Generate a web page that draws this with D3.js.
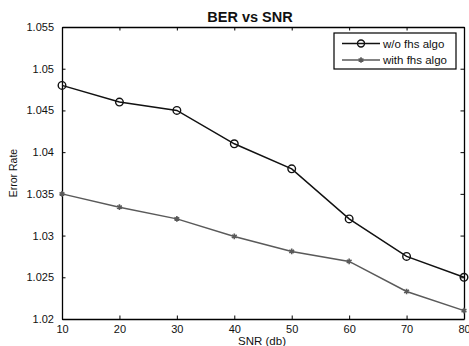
<!DOCTYPE html>
<html>
<head>
<meta charset="utf-8">
<script src="https://cdn.jsdelivr.net/npm/d3@7"></script>
<style>
  body { margin: 0; background: #fff; }
  svg { display: block; font-family: "Liberation Sans", Arial, sans-serif; }
</style>
</head>
<body>
<div id="chart"></div>
<script>
// data
const snr = [10, 20, 30, 40, 50, 60, 70, 80];
const withoutFhs = [1.048, 1.046, 1.045, 1.041, 1.038, 1.032, 1.0275, 1.025];
const withFhs = [1.035, 1.0334, 1.032, 1.0299, 1.0281, 1.0269, 1.0233, 1.0210];
const yTicks = [1.02, 1.025, 1.03, 1.035, 1.04, 1.045, 1.05, 1.055];
const yTickLabels = ["1.02", "1.025", "1.03", "1.035", "1.04", "1.045", "1.05", "1.055"];
const seriesNames = ["w/o fhs algo", "with fhs algo"];

const width = 469, height = 346;
const margin = { top: 27, right: 5, bottom: 27, left: 62 };

const svg = d3.select("#chart").append("svg")
    .attr("width", width)
    .attr("height", height);

const x = d3.scaleLinear().domain([10, 80]).range([margin.left, width - margin.right]);
const y = d3.scaleLinear().domain([1.02, 1.055]).range([height - margin.bottom, margin.top]);

const tickLen = 3.5;

// axes, MATLAB style: ticks pointing inward on all four sides
const xAxisBottom = d3.axisBottom(x).tickValues(snr).tickSizeInner(-tickLen).tickSizeOuter(0).tickPadding(6);
const xAxisTop = d3.axisTop(x).tickValues(snr).tickSizeInner(-tickLen).tickSizeOuter(0).tickFormat("");
const yAxisLeft = d3.axisLeft(y).tickValues(yTicks).tickSizeInner(-tickLen).tickSizeOuter(0).tickPadding(8)
    .tickFormat((d, i) => yTickLabels[i]);
const yAxisRight = d3.axisRight(y).tickValues(yTicks).tickSizeInner(-tickLen).tickSizeOuter(0).tickFormat("");

const styleAxis = g => {
    g.select(".domain").attr("stroke", "#000").attr("stroke-width", 1.3);
    g.selectAll(".tick line").attr("stroke", "#000").attr("stroke-width", 1);
    g.selectAll(".tick text").attr("fill", "#111").style("font-size", "11px")
        .style("font-family", "'Liberation Sans', Arial, sans-serif");
};

svg.append("g").attr("transform", `translate(0,${height - margin.bottom})`).call(xAxisBottom).call(styleAxis);
svg.append("g").attr("transform", `translate(0,${margin.top})`).call(xAxisTop).call(styleAxis);
svg.append("g").attr("transform", `translate(${margin.left},0)`).call(yAxisLeft).call(styleAxis);
svg.append("g").attr("transform", `translate(${width - margin.right},0)`).call(yAxisRight).call(styleAxis);

// title and axis labels
svg.append("text")
    .attr("x", 250).attr("y", 22)
    .attr("text-anchor", "middle")
    .style("font-size", "14.5px").style("font-weight", "bold")
    .attr("fill", "#111")
    .text("BER vs SNR");

svg.append("text")
    .attr("x", 262).attr("y", 345)
    .attr("text-anchor", "middle")
    .style("font-size", "11.5px")
    .attr("fill", "#111")
    .text("SNR (db)");

svg.append("text")
    .attr("transform", `translate(17,${(margin.top + height - margin.bottom) / 2}) rotate(-90)`)
    .attr("text-anchor", "middle")
    .style("font-size", "10.5px")
    .attr("fill", "#111")
    .text("Error Rate");

const line = d3.line().x((d, i) => x(snr[i])).y(d => y(d));

// series 1: black with open circles
svg.append("path")
    .datum(withoutFhs)
    .attr("d", line)
    .attr("fill", "none")
    .attr("stroke", "#111")
    .attr("stroke-width", 1.5);

svg.append("g").selectAll("circle")
    .data(withoutFhs)
    .join("circle")
    .attr("cx", (d, i) => x(snr[i]))
    .attr("cy", d => y(d))
    .attr("r", 3.8)
    .attr("fill", "none")
    .attr("stroke", "#111")
    .attr("stroke-width", 1.4);

// series 2: gray with asterisks
const grey = "#5a5a5a";
const star = d3.symbol().type(d3.symbolAsterisk).size(22);

svg.append("path")
    .datum(withFhs)
    .attr("d", line)
    .attr("fill", "none")
    .attr("stroke", grey)
    .attr("stroke-width", 1.5);

svg.append("g").selectAll("path")
    .data(withFhs)
    .join("path")
    .attr("d", star)
    .attr("transform", (d, i) => `translate(${x(snr[i])},${y(d)})`)
    .attr("fill", "none")
    .attr("stroke", grey)
    .attr("stroke-width", 1.6);

// legend
const legend = svg.append("g").attr("transform", "translate(334,33)");
legend.append("rect")
    .attr("width", 122).attr("height", 36)
    .attr("fill", "#fff")
    .attr("stroke", "#000")
    .attr("stroke-width", 1.2);

const legendRows = [
    { name: seriesNames[0], color: "#111", marker: "circle", dy: 10.5 },
    { name: seriesNames[1], color: grey, marker: "star", dy: 27 }
];

legendRows.forEach(r => {
    legend.append("line")
        .attr("x1", 8).attr("x2", 46)
        .attr("y1", r.dy).attr("y2", r.dy)
        .attr("stroke", r.color).attr("stroke-width", 1.5);
    if (r.marker === "circle") {
        legend.append("circle")
            .attr("cx", 27).attr("cy", r.dy).attr("r", 3.5)
            .attr("fill", "none").attr("stroke", r.color).attr("stroke-width", 1.4);
    } else {
        legend.append("path")
            .attr("d", star)
            .attr("transform", `translate(27,${r.dy})`)
            .attr("fill", "none").attr("stroke", r.color).attr("stroke-width", 1.6);
    }
    legend.append("text")
        .attr("x", 49).attr("y", r.dy).attr("dy", "0.35em")
        .style("font-size", "11.5px")
        .attr("fill", "#111")
        .text(r.name);
});
</script>
</body>
</html>
